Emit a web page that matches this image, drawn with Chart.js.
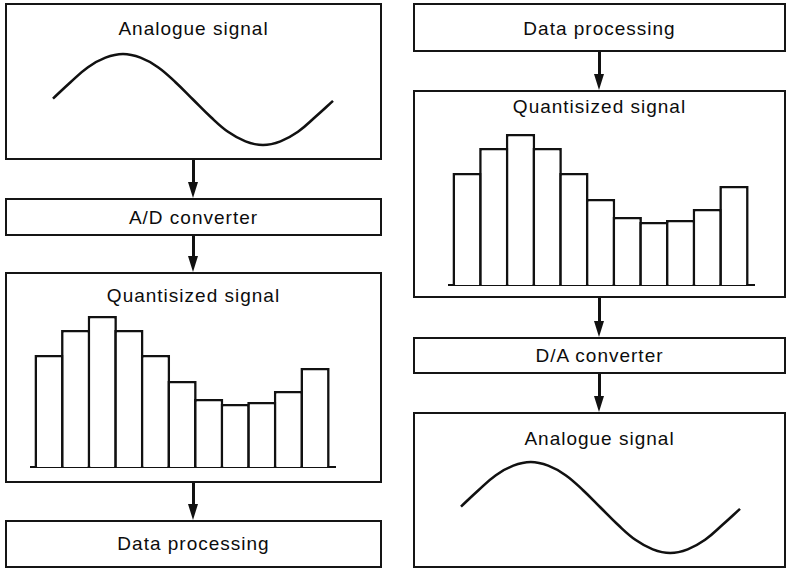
<!DOCTYPE html>
<html>
<head>
<meta charset="utf-8">
<script src="https://cdn.jsdelivr.net/npm/chart.js@4.4.1/dist/chart.umd.min.js"></script>
<style>
  body { margin: 0; background: #fff; color: #0c0c0c; font-family: "Liberation Sans", Arial, sans-serif; }
  #page { position: relative; width: 793px; height: 568px; overflow: hidden; }
  .box { position: absolute; border: 2px solid #151515; box-sizing: border-box; }
  .lbl { position: absolute; font-size: 19px; line-height: 19px; letter-spacing: 1px; text-align: center; white-space: nowrap; }
  .shaft { position: absolute; width: 3px; background: #111; }
  .head { position: absolute; width: 0; height: 0; border-left: 5px solid transparent; border-right: 5px solid transparent; border-top: 16px solid #111; }
  canvas { position: absolute; }
</style>
</head>
<body>
<div id="page">
  <!-- left column: analogue -> digital -->
  <div class="box" style="left:5px;top:3px;width:377px;height:157px"></div>
  <div class="box" style="left:5px;top:198px;width:377px;height:38px"></div>
  <div class="box" style="left:5px;top:272px;width:377px;height:211px"></div>
  <div class="box" style="left:5px;top:520px;width:377px;height:48px"></div>

  <!-- right column: digital -> analogue -->
  <div class="box" style="left:413px;top:3px;width:373px;height:49px"></div>
  <div class="box" style="left:413px;top:90px;width:373px;height:208px"></div>
  <div class="box" style="left:413px;top:337px;width:373px;height:37px"></div>
  <div class="box" style="left:413px;top:412px;width:373px;height:156px"></div>

  <div class="lbl" id="t1" style="left:5px;width:377px;top:19px"></div>
  <div class="lbl" id="t2" style="left:5px;width:377px;top:208px"></div>
  <div class="lbl" id="t3" style="left:5px;width:377px;top:286px"></div>
  <div class="lbl" id="t4" style="left:5px;width:377px;top:534px"></div>
  <div class="lbl" id="t5" style="left:413px;width:373px;top:19px"></div>
  <div class="lbl" id="t6" style="left:413px;width:373px;top:97px"></div>
  <div class="lbl" id="t7" style="left:413px;width:373px;top:346px"></div>
  <div class="lbl" id="t8" style="left:413px;width:373px;top:429px"></div>

  <!-- arrows -->
  <div class="shaft" style="left:192px;top:160px;height:24px"></div><div class="head" style="left:188px;top:182px"></div>
  <div class="shaft" style="left:192px;top:236px;height:22px"></div><div class="head" style="left:188px;top:256px"></div>
  <div class="shaft" style="left:192px;top:483px;height:23px"></div><div class="head" style="left:188px;top:504px"></div>
  <div class="shaft" style="left:598px;top:52px;height:24px"></div><div class="head" style="left:594px;top:74px"></div>
  <div class="shaft" style="left:598px;top:298px;height:25px"></div><div class="head" style="left:594px;top:321px"></div>
  <div class="shaft" style="left:598px;top:374px;height:24px"></div><div class="head" style="left:594px;top:396px"></div>

  <canvas id="sineIn" width="300" height="111" style="left:43px;top:44px"></canvas>
  <canvas id="quantIn" width="324" height="180" style="left:21px;top:297px"></canvas>
  <canvas id="quantOut" width="325" height="180" style="left:439px;top:115px"></canvas>
  <canvas id="sineOut" width="299" height="111" style="left:451px;top:452px"></canvas>
</div>

<script>
// box titles, left column then right column
const leftTitles = ['Analogue signal', 'A/D converter', 'Quantisized signal', 'Data processing'];
const rightTitles = ['Data processing', 'Quantisized signal', 'D/A converter', 'Analogue signal'];

// sampled levels of the quantised signal (bar heights)
const sampleIndex = [0, 1, 2, 3, 4, 5, 6, 7, 8, 9, 10];
const quantLevels = [112, 137, 151, 137, 112, 86, 68, 63, 65, 76, 99];

// analogue curve, one period
const curvePhase = [0, 1, 2, 3, 4, 5, 6, 7, 8, 9, 10, 11, 12, 13, 14, 15, 16];
const curveLevel = [0.02, 0.38, 0.71, 0.92, 1, 0.92, 0.71, 0.38, 0, -0.38, -0.71, -0.92, -1, -0.92, -0.71, -0.38, -0.03];

leftTitles.concat(rightTitles).forEach((t, i) => {
  document.getElementById('t' + (i + 1)).textContent = t;
});

const ink = '#111';

function sineChart(id) {
  new Chart(document.getElementById(id), {
    type: 'line',
    data: {
      datasets: [{
        data: curvePhase.map((x, i) => ({ x: x, y: curveLevel[i] })),
        borderColor: ink,
        borderWidth: 2.6,
        pointRadius: 0,
        tension: 0.4,
        fill: false,
        clip: false
      }]
    },
    options: {
      responsive: false,
      animation: false,
      events: [],
      layout: { padding: 10 },
      plugins: { legend: { display: false }, tooltip: { enabled: false } },
      scales: {
        x: { type: 'linear', min: 0, max: 16, display: false },
        y: { min: -1, max: 1, display: false }
      }
    }
  });
}

function quantChart(id) {
  new Chart(document.getElementById(id), {
    type: 'bar',
    data: {
      datasets: [{
        data: sampleIndex.map((x, i) => ({ x: x, y: quantLevels[i] })),
        backgroundColor: '#fff',
        borderColor: ink,
        borderWidth: 2.6,
        borderSkipped: 'bottom',
        barPercentage: 1.1,
        categoryPercentage: 1
      }]
    },
    options: {
      responsive: false,
      animation: false,
      events: [],
      layout: { padding: 10 },
      plugins: { legend: { display: false }, tooltip: { enabled: false } },
      scales: {
        x: {
          type: 'linear', min: -0.68, max: 10.75, offset: false, z: 1,
          grid: { display: false, drawTicks: false, offset: false },
          ticks: { display: false },
          border: { display: true, color: ink, width: 2 }
        },
        y: { min: 0, max: 160, display: false }
      }
    }
  });
}

sineChart('sineIn');
sineChart('sineOut');
quantChart('quantIn');
quantChart('quantOut');
</script>
</body>
</html>
